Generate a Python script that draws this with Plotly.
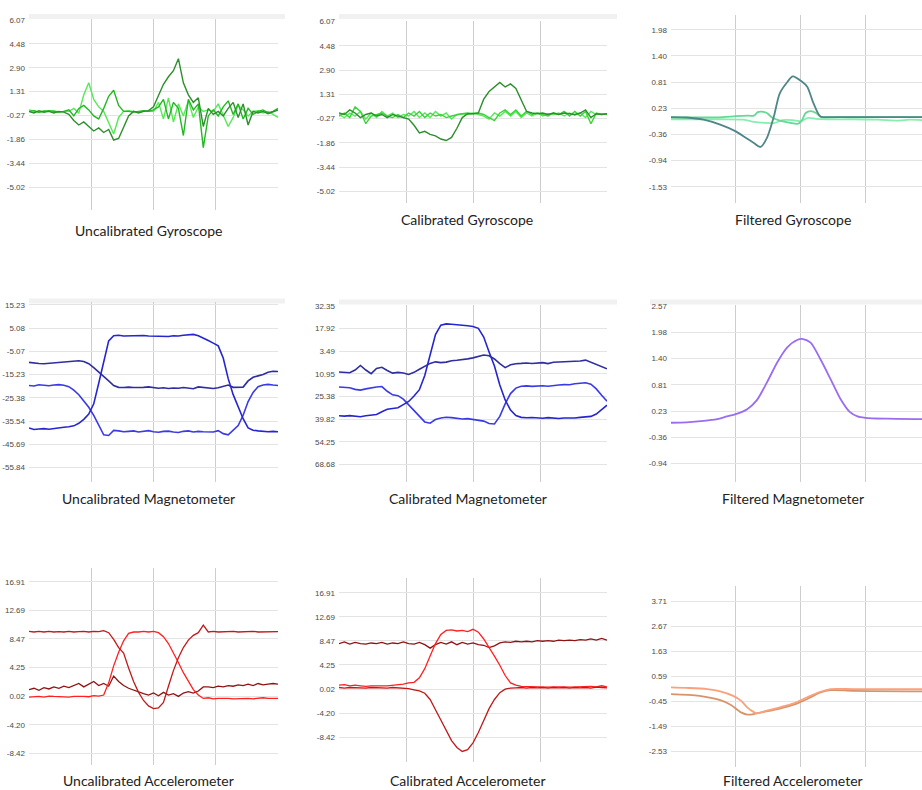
import plotly.graph_objects as go

# ---------------- DATA ----------------
X51 = list(range(0, 101, 2))

# Uncalibrated gyroscope
UG_DARK = [0.0, -0.1, 0.05, -0.05, 0.0, -0.1, 0.0, -0.05, -0.2, -0.6,
           -0.9, -0.7, -1.0, -1.3, -1.1, -1.4, -1.2, -1.9, -1.8, -1.1,
           -0.3, 0.0, -0.1, 0.0, 0.05, 0.3, 1.0, 1.8, 2.3, 2.7,
           3.5, 1.9, 1.1, 0.6, 0.9, -1.0, 0.2, -0.2, 0.0, -0.3,
           0.2, 0.6, -0.4, 0.5, -0.9, 0.0, -0.1, 0.0, -0.15, 0.0, 0.1]
UG_MID = [0.0, 0.05, -0.05, 0.0, 0.05, 0.0, -0.05, 0.0, 0.1, -0.3,
          0.2, 0.4, 0.1, -0.3, -0.5, 0.2, 1.0, 1.4, 0.4, 0.0,
          0.0, -0.05, 0.0, 0.05, 0.0, 0.1, 0.3, 0.8, -0.5, 0.6,
          0.2, -1.6, 0.8, 0.1, 0.5, -2.4, -0.3, 0.1, -0.3, 0.3,
          0.7, -0.2, 0.5, -0.5, 0.2, -0.2, 0.0, 0.1, -0.1, 0.0, 0.2]
UG_BRIGHT = [0.1, 0.0, -0.05, 0.05, 0.0, 0.05, -0.05, 0.0, 0.0, 0.2,
             -0.1, 1.1, 1.9, 0.8, 0.3, 0.0, -0.8, -1.5, -0.4, 0.0,
             0.05, 0.0, -0.05, 0.0, 0.0, 0.0, 0.6, -0.5, 0.9, -0.7,
             0.5, -0.3, 0.7, -0.4, 0.3, 0.0, 0.1, 0.0, 0.5, -0.2,
             -1.0, -0.4, 0.4, 0.1, -0.3, 0.0, 0.05, -0.1, 0.0, -0.2, -0.4]

# Calibrated gyroscope
CG_DARK = [0.1, 0.0, 0.3, 0.1, -0.2, 0.0, 0.1, -0.1, 0.0, -0.2,
           0.0, -0.1, -0.2, -0.3, -0.7, -1.2, -1.1, -1.3, -1.4, -1.6,
           -1.7, -1.5, -0.9, -0.2, 0.05, 0.05, 0.1, 1.0, 1.5, 1.8,
           2.1, 1.8, 2.0, 1.7, 0.9, 0.2, 0.1, 0.05, 0.1, 0.0,
           0.1, 0.0, 0.1, 0.05, 0.0, 0.1, 0.3, -0.2, 0.05, 0.0, 0.05]
CG_MID = [-0.1, 0.1, -0.2, 0.5, 0.2, -0.6, -0.1, 0.0, 0.1, -0.1,
          -0.2, 0.0, -0.2, 0.1, -0.1, 0.2, -0.2, 0.1, -0.1, 0.0,
          -0.2, -0.1, 0.0, 0.05, 0.1, 0.05, 0.1, 0.0, -0.2, -0.4,
          0.1, 0.3, 0.0, 0.3, -0.1, 0.2, 0.0, 0.1, 0.0, -0.1,
          0.1, 0.0, 0.2, -0.1, 0.2, -0.1, 0.2, -0.6, 0.1, 0.0, 0.05]
CG_BRIGHT = [0.0, -0.2, 0.1, -0.1, 0.2, -0.3, 0.1, -0.2, 0.2, -0.1,
             0.1, -0.2, 0.0, -0.1, 0.2, -0.2, 0.1, -0.2, 0.2, -0.1,
             0.1, -0.3, 0.0, 0.05, 0.0, 0.1, 0.0, -0.1, -0.3, 0.1,
             -0.1, 0.2, -0.1, 0.2, -0.2, 0.1, -0.1, 0.1, -0.1, 0.05,
             0.0, 0.1, -0.1, 0.1, -0.05, 0.1, -0.2, 0.2, 0.0, 0.05, 0.0]

# Filtered gyroscope
FG_TEAL_X = [0, 6, 12.6, 19, 25, 29, 32, 34.5, 37, 39.7, 42, 45, 47, 50.6, 52.6, 55, 57.7, 60, 70, 80, 90, 97]
FG_TEAL_Y = [0.03, 0.02, -0.03, -0.14, -0.29, -0.44, -0.55, -0.64, -0.44, 0.04, 0.56, 0.82, 0.94, 0.82,
             0.71, 0.34, 0.04, 0.03, 0.03, 0.03, 0.03, 0.03]
FG_GREEN_X = [0, 10, 20, 25, 30, 32, 33.5, 35, 37, 39, 42, 46, 49, 50.5, 52, 54, 56, 58, 65, 80, 97]
FG_GREEN_Y = [0.02, 0.02, 0.03, 0.05, 0.06, 0.06, 0.14, 0.15, 0.12, 0.02, -0.05, -0.1, -0.12, -0.05,
              0.12, 0.16, 0.12, 0.03, 0.03, 0.03, 0.03]
FG_MINT_X = [0, 10, 20, 28, 32, 36, 40, 43, 47, 50, 53, 56, 60, 70, 80, 88, 92, 97]
FG_MINT_Y = [-0.02, -0.02, -0.02, -0.03, -0.08, -0.1, -0.1, -0.04, -0.04, -0.06, 0.01, -0.01, -0.02,
             -0.02, -0.03, -0.05, -0.03, -0.04]

# Uncalibrated magnetometer
UM_NAVY = [-9.9, -10.3, -10.4, -10.5, -10.3, -10.2, -10.0, -9.6, -9.3, -9.1,
           -9.2, -9.5, -10.5, -12.2, -14.0, -15.9, -18.0, -20.0, -20.8, -20.9,
           -20.7, -20.9, -21.0, -20.8, -20.6, -21.0, -21.2, -21.0, -21.3, -21.1,
           -21.2, -20.9, -21.0, -21.4, -20.6, -20.9, -21.0, -21.3, -21.0, -20.5,
           -19.8, -20.8, -20.9, -20.7, -18.0, -16.4, -15.8, -15.2, -14.2, -13.8, -13.9]
UM_BLUE = [-20.0, -20.2, -19.7, -19.9, -20.1, -19.8, -19.6, -19.9, -20.5, -22.0,
           -24.0, -26.8, -29.5, -33.0, -37.5, -41.5, -41.8, -39.6, -39.8, -40.2,
           -40.0, -39.8, -40.3, -40.1, -39.7, -40.2, -40.4, -40.0, -39.9, -40.3,
           -40.5, -40.0, -39.8, -40.3, -40.0, -40.2, -40.1, -40.3, -39.7, -41.0,
           -41.5, -39.5, -37.5, -33.0, -27.0, -23.0, -20.5, -19.8, -19.5, -19.8, -20.0]
UM_HIGH = [-38.5, -39.2, -39.0, -38.8, -39.1, -38.7, -38.5, -38.2, -38.0, -37.6,
           -36.5, -34.8, -32.5, -28.0, -19.0, -9.0, -0.5, 1.7, 1.9, 1.6,
           1.7, 1.5, 1.6, 1.8, 1.6, 1.5, 1.7, 1.6, 1.4, 1.7,
           1.6, 1.9, 2.2, 2.3, 1.7, 0.5, -0.4, -1.5, -2.7, -8.0,
           -17.0, -24.0, -29.5, -34.5, -38.5, -39.5, -39.8, -40.1, -40.2, -40.0, -40.2]

# Calibrated magnetometer
CM_NAVY = [-9.8, -10.0, -10.2, -8.5, -5.6, -8.5, -10.8, -7.5, -6.8, -8.8,
           -10.5, -10.0, -10.4, -11.3, -10.0, -8.0, -6.0, -4.3, -3.3, -3.8,
           -3.5, -2.6, -2.3, -2.0, -1.4, -0.8, 0.0, 1.0, 0.6, -1.5,
           -4.5, -7.0, -5.2, -4.5, -4.3, -4.0, -4.4, -4.0, -3.8, -4.4,
           -3.6, -3.4, -3.2, -3.4, -3.0, -2.8, -2.2, -3.5, -5.0, -6.3, -7.7]
CM_PEAK = [-37.6, -37.8, -37.5, -37.8, -38.2, -37.6, -37.2, -36.8, -35.0, -33.5,
           -33.0, -32.5, -30.5, -28.5, -25.0, -21.0, -12.0, 2.0, 14.0, 20.0,
           20.8, 20.6, 20.5, 20.0, 19.6, 19.2, 18.0, 12.5, 3.0, -6.0,
           -18.0, -27.5, -34.0, -37.5, -38.6, -38.9, -38.7, -38.9, -39.2, -38.8,
           -39.0, -39.3, -39.0, -39.2, -39.0, -38.6, -38.4, -38.0, -36.5, -33.5, -30.9]
CM_BLUE = [-19.3, -19.4, -19.8, -20.8, -21.3, -20.5, -19.8, -19.3, -19.0, -22.0,
           -24.3, -24.8, -27.0, -30.5, -34.5, -38.0, -41.5, -42.3, -40.0, -39.0,
           -38.5, -38.8, -39.2, -39.6, -39.4, -39.8, -40.3, -41.0, -42.5, -42.8,
           -38.0, -30.0, -23.5, -20.0, -18.8, -18.6, -18.9, -18.7, -18.5, -18.8,
           -18.2, -18.0, -17.8, -17.9, -17.2, -16.8, -16.6, -17.5, -20.5, -24.5, -28.3]

# Filtered magnetometer
FM_X = [0, 6, 12.6, 17.8, 21.6, 25, 29.4, 33, 37, 41, 44.8, 48.7, 51, 53.9, 57.7, 61.6, 65.5, 69, 72, 75, 83.5, 97]
FM_Y = [-0.03, -0.02, 0.01, 0.05, 0.11, 0.16, 0.27, 0.46, 0.86, 1.31, 1.64, 1.81, 1.83, 1.75, 1.38,
        0.94, 0.49, 0.21, 0.11, 0.08, 0.06, 0.05]

# Uncalibrated accelerometer
UA_DIP = [9.6, 9.5, 9.6, 9.5, 9.6, 9.5, 9.55, 9.5, 9.6, 9.5,
          9.55, 9.6, 9.5, 9.6, 9.55, 9.7, 9.4, 8.4, 7.2, 6.4,
          4.2, 2.2, 0.6, -0.6, -1.4, -1.8, -1.7, -0.9, 1.5, 3.8,
          5.7, 7.2, 8.3, 9.0, 9.4, 10.5, 9.5, 9.6, 9.5, 9.55,
          9.5, 9.6, 9.5, 9.55, 9.5, 9.6, 9.5, 9.5, 9.6, 9.5, 9.55]
UA_RISE = [-0.1, -0.05, 0.0, -0.1, 0.05, 0.0, -0.05, 0.0, -0.1, 0.0,
           0.05, 0.0, -0.05, 0.1, 0.05, 0.2, 2.0, 4.5, 6.5, 8.2,
           9.3, 9.5, 9.5, 9.6, 9.5, 9.6, 9.4, 8.8, 7.8, 6.5,
           5.0, 3.5, 2.2, 1.0, 0.2, -0.3, -0.2, -0.35, -0.3, -0.25,
           -0.3, -0.35, -0.3, -0.25, -0.3, -0.35, -0.3, -0.2, -0.3, -0.35, -0.3]
UA_LOW = [1.0, 1.2, 0.9, 1.3, 1.1, 1.4, 1.2, 1.5, 1.3, 1.6,
          1.9, 1.4, 1.8, 2.2, 1.6, 1.9, 1.5, 3.0, 2.2, 1.6,
          1.2, 0.9, 0.6, 0.4, 0.2, 0.5, 0.1, 0.6, 0.2, 0.4,
          0.0, 0.5, 0.7, 0.5, 0.8, 1.4, 1.4, 1.3, 1.5, 1.4,
          1.6, 1.5, 1.7, 1.6, 1.8, 1.6, 1.9, 1.7, 1.8, 1.9, 1.8]

# Calibrated accelerometer
CA_TOP = [8.0, 8.3, 7.9, 8.2, 8.0, 7.9, 8.1, 8.0, 8.2, 7.9,
          8.1, 8.0, 8.3, 8.0, 7.9, 8.2, 7.8, 7.2, 7.8, 8.2,
          7.9, 8.3, 7.8, 8.2, 7.9, 8.1, 7.8, 7.7, 7.3, 7.6,
          8.1, 8.3, 8.2, 8.4, 8.3, 8.4, 8.3, 8.5, 8.4, 8.5,
          8.4, 8.6, 8.5, 8.6, 8.5, 8.7, 8.6, 8.8, 8.6, 8.9, 8.6]
CA_RISE = [0.7, 0.8, 0.6, 0.7, 0.6, 0.5, 0.6, 0.55, 0.6, 0.6,
           0.7, 0.7, 0.9, 1.1, 1.2, 2.0, 3.6, 5.8, 8.0, 9.6,
           10.3, 10.4, 10.2, 10.3, 10.1, 10.5, 10.0, 8.8, 7.4, 5.8,
           4.2, 2.4, 1.1, 0.7, 0.5, 0.45, 0.4, 0.45, 0.4, 0.35,
           0.4, 0.45, 0.4, 0.35, 0.4, 0.45, 0.4, 0.5, 0.4, 0.6, 0.4]
CA_DIP = [0.3, 0.2, 0.3, 0.25, 0.3, 0.2, 0.3, 0.25, 0.3, 0.2,
          0.3, 0.25, 0.2, 0.1, -0.1, -0.3, -0.7, -1.8, -3.6, -5.4,
          -7.3, -9.0, -10.2, -10.9, -10.6, -9.4, -7.6, -5.5, -3.4, -1.8,
          -0.6, 0.0, 0.2, 0.25, 0.3, 0.2, 0.3, 0.25, 0.3, 0.2,
          0.3, 0.25, 0.3, 0.2, 0.3, 0.25, 0.3, 0.2, 0.35, 0.3, 0.25]

# Filtered accelerometer
FA_ORANGE_X = [0, 6, 14, 19, 24, 27, 29.4, 32, 33, 37, 42, 47.4, 52.6, 57.7, 61.6, 70.6, 97]
FA_ORANGE_Y = [0.13, 0.11, 0.06, -0.03, -0.22, -0.42, -0.7, -0.9, -0.95, -0.84, -0.7, -0.53, -0.28,
               -0.05, 0.06, 0.06, 0.06]
FA_TAN_X = [0, 11, 19, 23, 27, 29.4, 32, 34.5, 42, 47.4, 52.6, 57.7, 61.6, 70.6, 97]
FA_TAN_Y = [-0.15, -0.22, -0.4, -0.59, -0.91, -1.0, -0.98, -0.92, -0.75, -0.59, -0.35, -0.08, 0.02,
            -0.01, -0.03]

# Tick labels
TICKS_GYRO = ["6.07", "4.48", "2.90", "1.31", "-0.27", "-1.86", "-3.44", "-5.02"]
TICKS_FGYRO = ["1.98", "1.40", "0.81", "0.23", "-0.36", "-0.94", "-1.53"]
TICKS_UMAG = ["15.23", "5.08", "-5.07", "-15.23", "-25.38", "-35.54", "-45.69", "-55.84"]
TICKS_CMAG_VAL = [32.35, 17.92, 3.49, -10.95, -25.38, -39.82, -54.25, -68.68]
TICKS_CMAG = ["32.35", "17.92", "3.49", "10.95", "25.38", "39.82", "54.25", "68.68"]
TICKS_FMAG = ["2.57", "1.98", "1.40", "0.81", "0.23", "-0.36", "-0.94"]
TICKS_ACC = ["16.91", "12.69", "8.47", "4.25", "0.02", "-4.20", "-8.42"]
TICKS_FACC = ["3.71", "2.67", "1.63", "0.59", "-0.45", "-1.49", "-2.53"]

TITLES = ["Uncalibrated Gyroscope", "Calibrated Gyroscope", "Filtered Gyroscope",
          "Uncalibrated Magnetometer", "Calibrated Magnetometer", "Filtered Magnetometer",
          "Uncalibrated Accelerometer", "Calibrated Accelerometer", "Filtered Accelerometer"]

# ---------------- LAYOUT (pixels) ----------------
W, H = 922, 790
# x0, x1, top, bottom, (v_top_tick, px_top_tick, v_bot_tick, px_bot_tick), title center x, title y
PANELS = [
    (29, 278, 15, 207, (6.07, 16, -5.02, 184), 148, 228),
    (339, 607, 17, 200, (6.07, 17.7, -5.02, 188.3), 467, 217),
    (671, 930, 11, 200, (1.98, 26, -1.53, 183.7), 793, 217),
    (29, 278, 300, 480, (15.23, 302.3, -55.84, 466), 148, 497),
    (339, 607, 303, 480, (32.35, 303.3, -68.68, 463), 468, 497),
    (671, 930, 303, 480, (2.57, 303.3, -0.94, 462), 793, 497),
    (29, 278, 567, 765, (16.91, 580.7, -8.42, 753.3), 148, 780),
    (339, 607, 577, 762, (16.91, 591.7, -8.42, 737), 468, 780),
    (671, 930, 585, 767, (3.71, 600.7, -2.53, 751), 793, 780),
]
TICKTEXTS = [TICKS_GYRO, TICKS_GYRO, TICKS_FGYRO, TICKS_UMAG, TICKS_CMAG, TICKS_FMAG,
             TICKS_ACC, TICKS_ACC, TICKS_FACC]

fig = go.Figure()

def add(panel, x, y, color, width=1.4, spline=False):
    n = "" if panel == 0 else str(panel + 1)
    fig.add_trace(go.Scatter(
        x=x, y=y, mode="lines", xaxis="x" + n, yaxis="y" + n,
        line=dict(color=color, width=width, shape="spline" if spline else "linear",
                  smoothing=0.8 if spline else None),
        showlegend=False, hoverinfo="skip"))

GREENS = ["#2b8f2b", "#22b822", "#55ea55"]
add(0, X51, UG_BRIGHT, GREENS[2])
add(0, X51, UG_MID, GREENS[1])
add(0, X51, UG_DARK, GREENS[0])
add(1, X51, CG_BRIGHT, GREENS[2])
add(1, X51, CG_MID, "#3ad43a")
add(1, X51, CG_DARK, GREENS[0])
add(2, FG_MINT_X, FG_MINT_Y, "#86eeb0", 1.8, True)
add(2, FG_GREEN_X, FG_GREEN_Y, "#63d995", 1.8, True)
add(2, FG_TEAL_X, FG_TEAL_Y, "#4f8687", 1.8, True)

add(3, X51, UM_NAVY, "#2e2ea0", 1.6)
add(3, X51, UM_BLUE, "#3a3ae6", 1.6)
add(3, X51, UM_HIGH, "#2626d0", 1.6)
add(4, X51, CM_NAVY, "#2e2ea0", 1.6)
add(4, X51, CM_BLUE, "#3a3ae6", 1.6)
add(4, X51, CM_PEAK, "#2626d0", 1.6)
add(5, FM_X, FM_Y, "#9a6cf2", 1.8, True)

add(6, X51, UA_LOW, "#8e1414", 1.3)
add(6, X51, UA_RISE, "#ff2020", 1.3)
add(6, X51, UA_DIP, "#c01a1a", 1.3)
add(7, X51, CA_TOP, "#8e1414", 1.3)
add(7, X51, CA_RISE, "#ff2020", 1.3)
add(7, X51, CA_DIP, "#c01a1a", 1.3)
add(8, FA_TAN_X, FA_TAN_Y, "#d6946a", 1.8, True)
add(8, FA_ORANGE_X, FA_ORANGE_Y, "#fca07c", 1.8, True)

layout = dict(width=W, height=H, margin=dict(l=0, r=0, t=0, b=0),
              paper_bgcolor="white", plot_bgcolor="white", showlegend=False)
annotations = []
shapes = []
for i, (x0, x1, top, bot, cal, tx, ty) in enumerate(PANELS):
    n = "" if i == 0 else str(i + 1)
    vt, pt, vb, pb = cal
    k = (vb - vt) / (pb - pt)
    yr = [vt + (bot - pt) * k, vt + (top - pt) * k]
    xr_end = 100 * (min(x1, W) - x0) / (x1 - x0)
    texts = TICKTEXTS[i]
    vals = TICKS_CMAG_VAL if i == 4 else [float(t) for t in texts]
    layout["xaxis" + n] = dict(domain=[x0 / W, min(x1, W) / W], range=[0, xr_end],
                               anchor="y" + n, tickvals=[0, 25, 50, 75, 100],
                               showticklabels=False, showgrid=True, gridcolor="#cdcdcd",
                               gridwidth=1, zeroline=False, showline=False, ticks="")
    layout["yaxis" + n] = dict(domain=[1 - bot / H, 1 - top / H], range=yr,
                               anchor="x" + n, tickvals=vals, ticktext=texts,
                               showgrid=True, gridcolor="#e4e4e4", gridwidth=1.2,
                               zeroline=False, showline=False, ticks="",
                               tickfont=dict(family="Liberation Sans", size=8, color="#4a4a4a"),
                               ticklabelstandoff=3)
    annotations.append(dict(text=TITLES[i], x=tx / W, y=1 - ty / H, xref="paper", yref="paper",
                            showarrow=False, xanchor="center", yanchor="middle",
                            font=dict(family="Lato", size=14, color="#222")))

# faint top strips
for (sx0, sx1, sy) in [(29, 285, 10), (339, 617, 10), (29, 285, 296), (339, 617, 297), (650, 922, 297)]:
    shapes.append(dict(type="rect", xref="paper", yref="paper", x0=sx0 / W, x1=sx1 / W,
                       y0=1 - (sy + 5) / H, y1=1 - sy / H, fillcolor="#f1f1f1",
                       line=dict(width=0), layer="below"))

layout["annotations"] = annotations
layout["shapes"] = shapes
fig.update_layout(**layout)
fig.write_html("out.html", config={"displayModeBar": False},
               post_script="document.body.style.margin='0';document.body.style.padding='0';"
                           "document.documentElement.style.overflow='hidden';")
